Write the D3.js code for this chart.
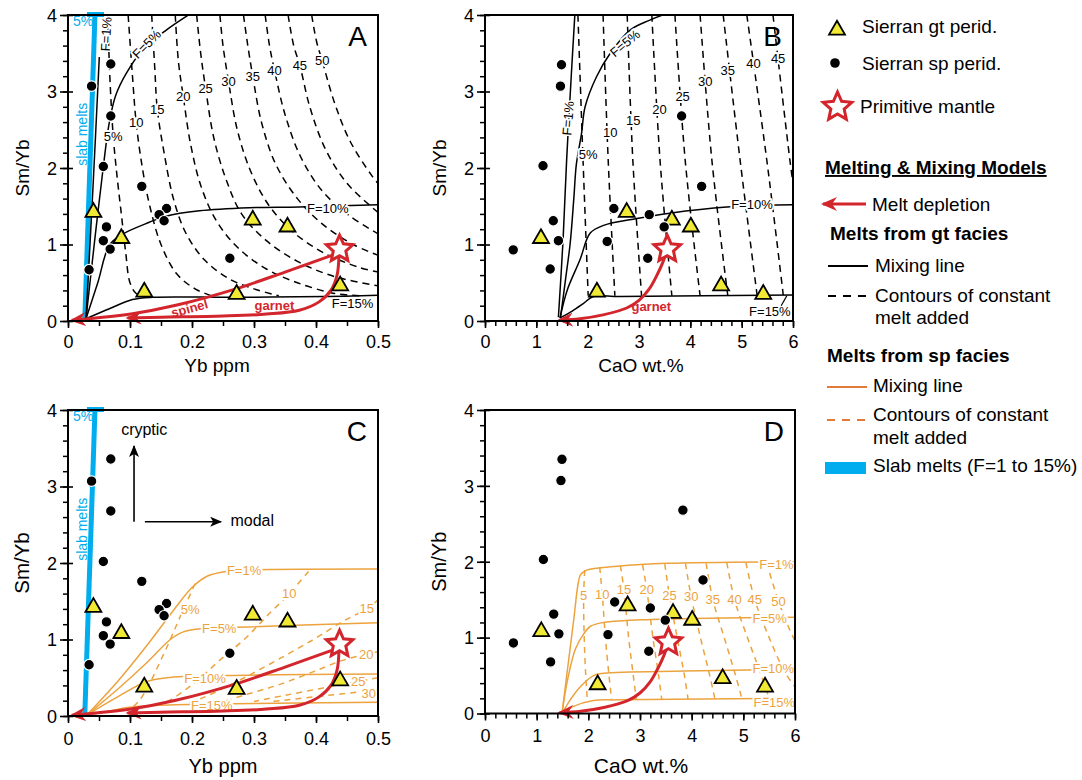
<!DOCTYPE html>
<html>
<head>
<meta charset="utf-8">
<script src="https://cdn.jsdelivr.net/npm/d3@7/dist/d3.min.js"></script>
<style>
html,body{margin:0;padding:0;background:#fff;}
svg{display:block;}
</style>
</head>
<body>
<svg id="chart" width="1082" height="780"></svg>
<script>
// ================= DATA =================
// Sierran garnet peridotites (same samples in all panels)
const gtYb   = [0.041, 0.086, 0.123, 0.272, 0.298, 0.354, 0.439];
const gtCaO  = [2.76, 1.09, 2.18, 5.42, 3.64, 4.01, 4.60];
const gtSmYb = [1.42, 1.08, 0.38, 0.35, 1.32, 1.23, 0.46];
// Sierran spinel peridotites, Yb plots (A, C)
const spYb      = [0.069, 0.038, 0.069, 0.057, 0.119, 0.159, 0.147, 0.155, 0.062, 0.057, 0.068, 0.261, 0.034];
const spSmYbYb  = [3.36, 3.07, 2.68, 2.02, 1.76, 1.47, 1.39, 1.31, 1.23, 1.05, 0.94, 0.82, 0.67];
// Sierran spinel peridotites, CaO plots (B, D)
const spCaO     = [1.49, 1.47, 3.83, 1.13, 4.22, 2.51, 3.20, 1.33, 3.49, 1.43, 2.38, 0.55, 3.17, 1.27];
const spSmYbCaO = [3.35, 3.07, 2.68, 2.03, 1.76, 1.47, 1.39, 1.31, 1.23, 1.05, 1.04, 0.93, 0.82, 0.68];
// Primitive mantle
const pmYb = 0.438, pmCaO = 3.55, pmSmYb = 0.94;

// tick values
const ybMajor  = [0, 0.1, 0.2, 0.3, 0.4, 0.5];
const ybMinor  = [0,0.05,0.1,0.15,0.2,0.25,0.3,0.35,0.4,0.45,0.5];
const caoMajor = [0, 1, 2, 3, 4, 5, 6];
const caoMinor = [0,0.2,0.4,0.6,0.8,1,1.2,1.4,1.6,1.8,2,2.2,2.4,2.6,2.8,3,3.2,3.4,3.6,3.8,4,4.2,4.4,4.6,4.8,5,5.2,5.4,5.6,5.8,6];
const yMajor   = [0, 1, 2, 3, 4];
const yMinor   = [0,0.2,0.4,0.6,0.8,1,1.2,1.4,1.6,1.8,2,2.2,2.4,2.6,2.8,3,3.2,3.4,3.6,3.8,4];

// ---- Panel A : garnet-facies melts (Yb) ----
const gtF1Yb  = [[0.029,0.03],[0.040,1.70],[0.0505,3.45]];
const gtF5Yb  = [[0.029,0.03],[0.043,1.05],[0.057,2.02],[0.0667,2.6],[0.077,2.95],[0.0935,3.23],[0.12,3.54],[0.158,3.8],[0.2,4.03]];
const gtF10Yb = [[0.029,0.03],[0.048,0.5],[0.0667,0.99],[0.087,1.13],[0.131,1.29],[0.158,1.37],[0.212,1.44],[0.292,1.48],[0.373,1.49],[0.5,1.52]];
const gtF15Yb = [[0.029,0.03],[0.0667,0.16],[0.104,0.28],[0.137,0.31],[0.266,0.31],[0.416,0.32],[0.5,0.335]];
const gtContYb = [
  [[0.064,4],[0.068,3.1],[0.073,2.41],[0.079,1.9],[0.086,1.4],[0.093,0.9],[0.1,0.5],[0.11,0.36],[0.125,0.31]],
  [[0.097,4],[0.104,3.2],[0.11,2.59],[0.12,2.0],[0.132,1.5],[0.15,1.0],[0.175,0.62],[0.205,0.42],[0.235,0.32]],
  [[0.135,4],[0.14,3.3],[0.144,2.77],[0.155,2.2],[0.17,1.6],[0.19,1.15],[0.22,0.8],[0.26,0.55],[0.3,0.42],[0.34,0.33]],
  [[0.173,4],[0.178,3.4],[0.186,2.93],[0.198,2.3],[0.215,1.75],[0.24,1.3],[0.275,0.95],[0.32,0.68],[0.37,0.5],[0.43,0.36],[0.47,0.33]],
  [[0.2075,4],[0.214,3.5],[0.222,3.04],[0.235,2.4],[0.255,1.85],[0.28,1.4],[0.32,1.05],[0.37,0.78],[0.43,0.58],[0.5,0.46]],
  [[0.245,4],[0.25,3.6],[0.259,3.13],[0.273,2.5],[0.295,1.95],[0.325,1.5],[0.365,1.15],[0.415,0.88],[0.47,0.7],[0.5,0.64]],
  [[0.283,4],[0.29,3.6],[0.298,3.2],[0.312,2.6],[0.335,2.05],[0.37,1.6],[0.41,1.27],[0.46,1.0],[0.5,0.86]],
  [[0.318,4],[0.325,3.6],[0.333,3.28],[0.35,2.7],[0.375,2.15],[0.41,1.7],[0.455,1.37],[0.5,1.14]],
  [[0.355,4],[0.364,3.6],[0.374,3.34],[0.39,2.8],[0.415,2.25],[0.45,1.8],[0.5,1.42]],
  [[0.393,4],[0.401,3.65],[0.41,3.40],[0.43,2.85],[0.455,2.35],[0.49,1.9],[0.5,1.8]]
];
const contLabels  = ["5%","10","15","20","25","30","35","40","45","50"];
const gtContLabYb = [[0.073,2.41],[0.11,2.59],[0.144,2.77],[0.186,2.93],[0.222,3.04],[0.259,3.13],[0.298,3.20],[0.333,3.28],[0.374,3.34],[0.41,3.40]];

// ---- Panel B : garnet-facies melts (CaO) ----
const gtF1CaO  = [[1.43,0.05],[1.52,1.05],[1.59,2.1],[1.68,3.2],[1.75,4.0]];
const gtF5CaO  = [[1.47,0.04],[1.57,0.55],[1.66,1.02],[1.73,1.6],[1.78,2.05],[1.88,2.45],[1.95,2.8],[2.17,3.19],[2.44,3.5],[2.82,3.8],[3.2,3.93],[3.54,4.02]];
const gtF10CaO = [[1.46,0.04],[1.6,0.4],[1.85,0.8],[2.05,1.15],[2.31,1.25],[2.96,1.34],[3.6,1.41],[4.71,1.49],[6.0,1.52]];
const gtF15CaO = [[1.46,0.04],[1.7,0.13],[1.92,0.23],[2.11,0.32],[2.63,0.32],[6.0,0.34]];
const gtContCaO = [
  [[1.81,4],[1.91,2.1],[2.01,0.33]],
  [[2.30,4],[2.40,2.1],[2.53,0.33]],
  [[2.77,4],[2.88,2.1],[3.05,0.33]],
  [[3.25,4],[3.41,2.1],[3.64,0.33]],
  [[3.70,4],[3.90,2.1],[4.19,0.33]],
  [[4.19,4],[4.42,2.1],[4.73,0.33]],
  [[4.64,4],[4.97,2.1],[5.30,0.34]],
  [[5.10,4],[5.49,2.1],[5.81,0.34]],
  [[5.61,4],[5.94,2.1],[6.02,1.7]]
];
const gtContLabCaO = [[2.01,2.18],[2.44,2.47],[2.89,2.62],[3.40,2.77],[3.85,2.93],[4.29,3.13],[4.73,3.27],[5.23,3.37],[5.71,3.43]];

// ---- Panel C : spinel-facies melts (Yb) ----
const spF1Yb  = [[0.03,0.01],[0.08,0.45],[0.13,0.95],[0.17,1.38],[0.2,1.68],[0.225,1.83],[0.255,1.89],[0.3,1.91],[0.5,1.92]];
const spF5Yb  = [[0.03,0.01],[0.08,0.35],[0.13,0.72],[0.165,1.0],[0.186,1.1],[0.213,1.14],[0.275,1.16],[0.5,1.22]];
const spF10Yb = [[0.03,0.01],[0.08,0.25],[0.127,0.45],[0.159,0.5],[0.256,0.53],[0.5,0.55]];
const spF15Yb = [[0.03,0.01],[0.07,0.07],[0.095,0.11],[0.148,0.14],[0.267,0.16],[0.5,0.18]];
const spContYb = [
  [[0.205,1.73],[0.181,1.30],[0.165,1.0],[0.148,0.7],[0.132,0.43],[0.116,0.21],[0.105,0.12]],
  [[0.388,1.89],[0.357,1.60],[0.32,1.3],[0.288,1.03],[0.245,0.73],[0.202,0.42],[0.165,0.21],[0.15,0.15]],
  [[0.5,1.52],[0.484,1.41],[0.444,1.24],[0.396,1.0],[0.337,0.73],[0.277,0.47],[0.218,0.24],[0.19,0.16]],
  [[0.5,0.84],[0.444,0.73],[0.39,0.56],[0.337,0.40],[0.283,0.27],[0.245,0.17]],
  [[0.5,0.5],[0.42,0.38],[0.35,0.27],[0.3,0.19]],
  [[0.5,0.34],[0.42,0.27],[0.33,0.19]]
];
const spContLabelsYb = ["5%","10","15","20","25","30"];
const spContLabYb = [[0.197,1.395],[0.357,1.60],[0.482,1.41],[0.481,0.80],[0.468,0.45],[0.485,0.30]];

// ---- Panel D : spinel-facies melts (CaO) ----
const spF1CaO  = [[1.49,0],[1.6,0.6],[1.72,1.25],[1.8,1.7],[1.85,1.83],[1.97,1.89],[2.56,1.94],[3.53,1.98],[6.0,2.0]];
const spF5CaO  = [[1.49,0],[1.6,0.45],[1.75,0.85],[1.91,1.05],[2.04,1.15],[2.3,1.2],[3.21,1.24],[6.0,1.27]];
const spF10CaO = [[1.49,0],[1.65,0.18],[1.84,0.35],[2.1,0.5],[2.3,0.53],[3.86,0.56],[6.0,0.58]];
const spF15CaO = [[1.49,0],[1.7,0.09],[2.1,0.17],[2.56,0.18],[6.0,0.2]];
const spContCaO = [
  [[1.93,1.89],[1.91,1.56],[1.92,1.0],[1.95,0.5],[1.98,0.19]],
  [[2.22,1.93],[2.27,1.57],[2.33,1.0],[2.4,0.5],[2.45,0.18]],
  [[2.62,1.95],[2.69,1.63],[2.78,1.0],[2.87,0.5],[2.93,0.18]],
  [[3.05,1.96],[3.13,1.64],[3.25,1.0],[3.36,0.5],[3.42,0.19]],
  [[3.48,1.97],[3.57,1.55],[3.72,1.0],[3.86,0.5],[3.93,0.19]],
  [[3.88,1.98],[3.99,1.54],[4.17,1.0],[4.35,0.5],[4.45,0.19]],
  [[4.28,1.98],[4.41,1.5],[4.63,1.0],[4.85,0.5],[4.97,0.2]],
  [[4.68,1.99],[4.83,1.5],[5.08,1.0],[5.35,0.5],[5.5,0.2]],
  [[5.05,1.99],[5.22,1.5],[5.5,1.0],[5.8,0.55],[6.02,0.33]],
  [[5.45,1.99],[5.68,1.48],[5.9,1.1],[6.02,0.93]]
];
const spContLabelsCaO = ["5","10","15","20","25","30","35","40","45","50"];
const spContLabCaO = [[1.91,1.56],[2.27,1.57],[2.69,1.63],[3.13,1.64],[3.57,1.55],[3.99,1.54],[4.41,1.50],[4.83,1.50],[5.22,1.50],[5.68,1.48]];

// ---- slab melts and melt-depletion arrows ----
const slabYb = [[0.027,0],[0.0435,4]];
const depSpinelYb = [[0.43,0.87],[0.35,0.64],[0.271,0.42],[0.174,0.205],[0.104,0.095],[0.006,0.01]];
const depGarnetYb = [[0.437,0.86],[0.434,0.6],[0.424,0.4],[0.405,0.25],[0.373,0.14],[0.32,0.09],[0.25,0.065],[0.15,0.05],[0.096,0.04]];
const depGarnetCaO = [[3.52,0.87],[3.46,0.76],[3.35,0.6],[3.2,0.42],[3.0,0.27],[2.76,0.17],[2.3,0.08],[1.85,0.03],[1.44,0.01]];

// ================= DRAWING =================
const FF = "'Liberation Sans', Arial, Helvetica, sans-serif";
const RED = "#d3262c", ORG = "#eca33e", ORGL = "#e37a38", BLUE = "#00adee", YEL = "#f0ea35";
const svg = d3.select("#chart");
const defs = svg.append("defs");

defs.append("marker").attr("id","ahRed").attr("viewBox","0 0 16 14")
  .attr("refX",14).attr("refY",7).attr("markerWidth",16).attr("markerHeight",14)
  .attr("markerUnits","userSpaceOnUse").attr("orient","auto")
  .append("path").attr("d","M0,0 L16,7 L0,14 L5,7 Z").attr("fill",RED);
defs.append("marker").attr("id","ahBlk").attr("viewBox","0 0 12 10")
  .attr("refX",11).attr("refY",5).attr("markerWidth",12).attr("markerHeight",10)
  .attr("markerUnits","userSpaceOnUse").attr("orient","auto")
  .append("path").attr("d","M0,0 L12,5 L0,10 L3,5 Z").attr("fill","#000");

function starPath(R, r) {
  const pts = [];
  for (let i = 0; i < 10; i++) {
    const a = -Math.PI/2 + i*Math.PI/5;
    const rr = i % 2 === 0 ? R : r;
    pts.push([rr*Math.cos(a), rr*Math.sin(a)]);
  }
  return "M" + pts.map(p => p[0].toFixed(2)+","+p[1].toFixed(2)).join("L") + "Z";
}

function panel(id, xr, yr, xdom) {
  const x = d3.scaleLinear().domain(xdom).range(xr);
  const y = d3.scaleLinear().domain([0,4]).range([yr[1], yr[0]]);
  defs.append("clipPath").attr("id","clip"+id).append("rect")
    .attr("x",xr[0]).attr("y",yr[0]).attr("width",xr[1]-xr[0]).attr("height",yr[1]-yr[0]);
  const g = svg.append("g");
  const inner = g.append("g").attr("clip-path",`url(#clip${id})`);
  return {x, y, g, inner, xr, yr};
}

function lineGen(p) {
  return d3.line().x(d => p.x(d[0])).y(d => p.y(d[1])).curve(d3.curveCatmullRom.alpha(0.5));
}

function curve(p, pts, color, width, dash, layer) {
  const el = (layer || p.inner).append("path").attr("d", lineGen(p)(pts))
    .attr("fill","none").attr("stroke",color).attr("stroke-width",width)
    .attr("stroke-linecap","butt").attr("stroke-linejoin","round");
  if (dash) el.attr("stroke-dasharray", dash);
  return el;
}

function label(p, txt, xv, yv, o) {
  o = o || {};
  const X = p.x(xv), Y = p.y(yv);
  const t = p.g.append("text").attr("x",X).attr("y",Y).text(txt)
    .attr("font-family",FF).attr("font-size",o.size || 13).attr("fill",o.color || "#000")
    .attr("font-weight",o.bold ? "bold" : "normal")
    .attr("text-anchor",o.anchor || "middle").attr("dominant-baseline","central");
  if (o.rot) t.attr("transform",`rotate(${o.rot},${X},${Y})`);
  if (o.halo) t.attr("stroke","#fff").attr("stroke-width",o.halo).attr("paint-order","stroke").attr("stroke-linejoin","round");
  return t;
}

// o: {title, letter, titleX, titleY, titleSize, ySize, tickOff}
function axes(p, xMaj, xMin, fmt, o) {
  const [x0,x1] = p.xr, [y0,y1] = p.yr;
  p.g.append("g").attr("transform",`translate(0,${y1})`)
    .call(d3.axisBottom(p.x).tickValues(xMin).tickSize(5).tickFormat(""))
    .call(s => { s.select(".domain").remove(); s.selectAll("line").attr("stroke-width",1.5); });
  p.g.append("g").attr("transform",`translate(0,${y1})`)
    .call(d3.axisBottom(p.x).tickValues(xMaj).tickSize(7).tickFormat(fmt))
    .call(s => { s.select(".domain").remove(); s.selectAll("line").attr("stroke-width",1.6);
      s.selectAll("text").attr("y",o.tickOff).attr("dy","0").attr("font-size",18).attr("font-family",FF).attr("fill","#000"); });
  p.g.append("g").attr("transform",`translate(${x0},0)`)
    .call(d3.axisLeft(p.y).tickValues(yMinor).tickSize(5).tickFormat(""))
    .call(s => { s.select(".domain").remove(); s.selectAll("line").attr("x1",1).attr("stroke-width",1.5); });
  p.g.append("g").attr("transform",`translate(${x0},0)`)
    .call(d3.axisLeft(p.y).tickValues(yMajor).tickSize(8).tickFormat(d3.format("d")))
    .call(s => { s.select(".domain").remove(); s.selectAll("line").attr("x1",5).attr("stroke-width",1.6);
      s.selectAll("text").attr("x",-11).attr("dy","0.35em").attr("font-size",18).attr("font-family",FF).attr("fill","#000"); });
  p.g.append("rect").attr("x",x0).attr("y",y0).attr("width",x1-x0).attr("height",y1-y0)
    .attr("fill","none").attr("stroke","#000").attr("stroke-width",2);
  p.g.append("text").attr("x",o.titleX).attr("y",o.titleY).attr("text-anchor","middle")
    .attr("font-family",FF).attr("font-size",o.titleSize).text(o.title);
  p.g.append("text").attr("transform",`translate(${x0-39},${(y0+y1)/2}) rotate(-90)`)
    .attr("text-anchor","middle").attr("font-family",FF).attr("font-size",o.ySize).text("Sm/Yb");
  p.g.append("text").attr("x",x1-11).attr("y",y0+31).attr("text-anchor","end")
    .attr("font-family",FF).attr("font-size",28).text(o.letter);
}

function markers(p, gx, gy, sx, sy, pmx) {
  p.g.append("g").selectAll("path").data(gx.map((v,i) => [v, gy[i]])).join("path")
    .attr("d", d3.symbol(d3.symbolTriangle, 110)())
    .attr("transform", d => `translate(${p.x(d[0])},${p.y(d[1])})`)
    .attr("fill", YEL).attr("stroke","#000").attr("stroke-width",1.8).attr("stroke-linejoin","miter");
  p.g.append("g").selectAll("circle").data(sx.map((v,i) => [v, sy[i]])).join("circle")
    .attr("cx", d => p.x(d[0])).attr("cy", d => p.y(d[1])).attr("r",5.3)
    .attr("fill","#000").attr("stroke","#fff").attr("stroke-width",1.2);
  p.g.append("path").attr("d", starPath(14, 6.6))
    .attr("transform", `translate(${p.x(pmx)},${p.y(pmSmYb)})`)
    .attr("fill","#fff").attr("stroke",RED).attr("stroke-width",3).attr("stroke-linejoin","miter");
}

function slab(p) {
  curve(p, slabYb, BLUE, 5, null);
  p.g.append("rect").attr("x", p.x(slabYb[1][0]) - 8).attr("y", p.yr[0]-3).attr("width",17).attr("height",5).attr("fill",BLUE);
  label(p, "5%", 0.0245, 3.92, {size:14, color:BLUE});
  label(p, "slab melts", 0.0222, 2.44, {size:14, color:BLUE, rot:-90});
}

function arrow(p, pts) {
  curve(p, pts, RED, 3, null, p.g).attr("marker-end","url(#ahRed)");
}

const fmtYb = d => d === 0 ? "0" : d3.format(".1f")(d);

// ---------- Panel A ----------
const A = panel("A", [68,378], [15,321], [0,0.5]);
slab(A);
gtContYb.forEach(c => curve(A, c, "#000", 1.5, "7,5"));
[gtF1Yb, gtF5Yb, gtF10Yb, gtF15Yb].forEach(c => curve(A, c, "#000", 1.5, null));
contLabels.forEach((t,i) => label(A, t, gtContLabYb[i][0], gtContLabYb[i][1], {size:13, halo:4}));
label(A, "F=1%", 0.0615, 3.75, {size:13, rot:-87, halo:3});
label(A, "F=5%", 0.127, 3.62, {size:13, rot:-45, halo:4});
label(A, "F=10%", 0.419, 1.477, {size:13, halo:4});
label(A, "F=15%", 0.459, 0.226, {size:13});
arrow(A, depSpinelYb);
arrow(A, depGarnetYb);
label(A, "spinel", 0.196, 0.165, {size:13, bold:true, color:RED, rot:-15});
label(A, "garnet", 0.333, 0.20, {size:13, bold:true, color:RED});
markers(A, gtYb, gtSmYb, spYb, spSmYbYb, pmYb);
axes(A, ybMajor, ybMinor, fmtYb, {title:"Yb ppm", letter:"A", titleX:217, titleY:372, titleSize:19, ySize:19, tickOff:27});

// ---------- Panel B ----------
const B = panel("B", [485,793], [15,321], [0,6]);
gtContCaO.forEach(c => curve(B, c, "#000", 1.5, "7,5"));
[gtF1CaO, gtF5CaO, gtF10CaO, gtF15CaO].forEach(c => curve(B, c, "#000", 1.5, null));
contLabels.slice(0,9).forEach((t,i) => label(B, t, gtContLabCaO[i][0], gtContLabCaO[i][1], {size:13, halo:4}));
label(B, "F=1%", 1.62, 2.65, {size:13, rot:-85, halo:3});
label(B, "F=5%", 2.73, 3.63, {size:13, rot:-40, halo:4});
label(B, "F=10%", 5.2, 1.52, {size:13, halo:4});
label(B, "F=15%", 5.55, 0.12, {size:13});
curve(B, [[5.77,0.2],[5.88,0.33]], "#000", 1.2, null);
arrow(B, depGarnetCaO);
label(B, "garnet", 3.24, 0.19, {size:13, bold:true, color:RED});
markers(B, gtCaO, gtSmYb, spCaO, spSmYbCaO, pmCaO);
axes(B, caoMajor, caoMinor, d3.format("d"), {title:"CaO wt.%", letter:"B", titleX:641, titleY:372, titleSize:19, ySize:19, tickOff:27});

// ---------- Panel C ----------
const C = panel("C", [68,378], [410,716], [0,0.5]);
slab(C);
spContYb.forEach(c => curve(C, c, ORG, 1.5, "6,5"));
[spF1Yb, spF5Yb, spF10Yb, spF15Yb].forEach(c => curve(C, c, ORG, 1.5, null));
spContLabelsYb.forEach((t,i) => label(C, t, spContLabYb[i][0], spContLabYb[i][1], {size:13, color:ORG, halo:4}));
label(C, "F=1%", 0.284, 1.9, {size:13, color:ORG, halo:4});
label(C, "F=5%", 0.244, 1.146, {size:13, color:ORG, halo:4});
label(C, "F=10%", 0.221, 0.49, {size:13, color:ORG, halo:4});
label(C, "F=15%", 0.232, 0.14, {size:13, color:ORG, halo:4});
arrow(C, depSpinelYb);
arrow(C, depGarnetYb);
// cryptic / modal annotation
C.g.append("line").attr("x1",C.x(0.1065)).attr("y1",C.y(2.54)).attr("x2",C.x(0.1065)).attr("y2",C.y(3.53))
  .attr("stroke","#000").attr("stroke-width",1.6).attr("marker-end","url(#ahBlk)");
C.g.append("line").attr("x1",C.x(0.124)).attr("y1",C.y(2.54)).attr("x2",C.x(0.247)).attr("y2",C.y(2.54))
  .attr("stroke","#000").attr("stroke-width",1.6).attr("marker-end","url(#ahBlk)");
label(C, "cryptic", 0.123, 3.75, {size:16});
label(C, "modal", 0.262, 2.55, {size:16, anchor:"start"});
markers(C, gtYb, gtSmYb, spYb, spSmYbYb, pmYb);
axes(C, ybMajor, ybMinor, fmtYb, {title:"Yb ppm", letter:"C", titleX:223, titleY:773, titleSize:20, ySize:20.5, tickOff:29});

// ---------- Panel D ----------
const D = panel("D", [485,795], [410,713.5], [0,6]);
spContCaO.forEach(c => curve(D, c, ORG, 1.5, "6,5"));
[spF1CaO, spF5CaO, spF10CaO, spF15CaO].forEach(c => curve(D, c, ORG, 1.5, null));
spContLabelsCaO.forEach((t,i) => label(D, t, spContLabCaO[i][0], spContLabCaO[i][1], {size:13, color:ORG, halo:4}));
label(D, "F=1%", 5.64, 1.97, {size:13, color:ORG, halo:4});
label(D, "F=5%", 5.51, 1.25, {size:13, color:ORG, halo:4});
label(D, "F=10%", 5.58, 0.59, {size:13, color:ORG, halo:4});
label(D, "F=15%", 5.6, 0.15, {size:13, color:ORG, halo:4});
arrow(D, depGarnetCaO);
markers(D, gtCaO, gtSmYb, spCaO, spSmYbCaO, pmCaO);
axes(D, caoMajor, caoMinor, d3.format("d"), {title:"CaO wt.%", letter:"D", titleX:641, titleY:773, titleSize:21, ySize:20, tickOff:28});

// ---------- Legend ----------
const L = svg.append("g").attr("font-family",FF).attr("font-size",19).attr("fill","#000");
L.append("path").attr("d", d3.symbol(d3.symbolTriangle, 110)()).attr("transform","translate(837,30)")
  .attr("fill",YEL).attr("stroke","#000").attr("stroke-width",1.8);
L.append("text").attr("x",862).attr("y",33).text("Sierran gt perid.");
L.append("circle").attr("cx",835).attr("cy",63).attr("r",4.8).attr("fill","#000");
L.append("text").attr("x",862).attr("y",70).text("Sierran sp perid.");
L.append("path").attr("d", starPath(15, 7)).attr("transform","translate(837.5,107)")
  .attr("fill","#fff").attr("stroke",RED).attr("stroke-width",3);
L.append("text").attr("x",860).attr("y",113).text("Primitive mantle");
L.append("text").attr("x",825).attr("y",174).attr("font-weight","bold").attr("text-decoration","underline").text("Melting & Mixing Models");
L.append("line").attr("x1",866).attr("y1",204).attr("x2",823).attr("y2",204)
  .attr("stroke",RED).attr("stroke-width",3).attr("marker-end","url(#ahRed)");
L.append("text").attr("x",872).attr("y",210.5).text("Melt depletion");
L.append("text").attr("x",830).attr("y",240).attr("font-weight","bold").text("Melts from gt facies");
L.append("line").attr("x1",828).attr("y1",266).attr("x2",868).attr("y2",266).attr("stroke","#000").attr("stroke-width",2);
L.append("text").attr("x",875).attr("y",272).text("Mixing line");
L.append("line").attr("x1",828).attr("y1",296).attr("x2",868).attr("y2",296).attr("stroke","#000").attr("stroke-width",2).attr("stroke-dasharray","8,7");
L.append("text").attr("x",875).attr("y",302).text("Contours of constant");
L.append("text").attr("x",875).attr("y",324).text("melt added");
L.append("text").attr("x",827).attr("y",362).attr("font-weight","bold").text("Melts from sp facies");
L.append("line").attr("x1",827).attr("y1",387).attr("x2",867).attr("y2",387).attr("stroke",ORGL).attr("stroke-width",2);
L.append("text").attr("x",873).attr("y",392).text("Mixing line");
L.append("line").attr("x1",827).attr("y1",420).attr("x2",867).attr("y2",420).attr("stroke",ORGL).attr("stroke-width",2).attr("stroke-dasharray","8,7");
L.append("text").attr("x",873).attr("y",420.5).text("Contours of constant");
L.append("text").attr("x",873).attr("y",444).text("melt added");
L.append("rect").attr("x",825).attr("y",462).attr("width",41).attr("height",12).attr("fill",BLUE);
L.append("text").attr("x",873).attr("y",472).text("Slab melts (F=1 to 15%)");
</script>
</body>
</html>
